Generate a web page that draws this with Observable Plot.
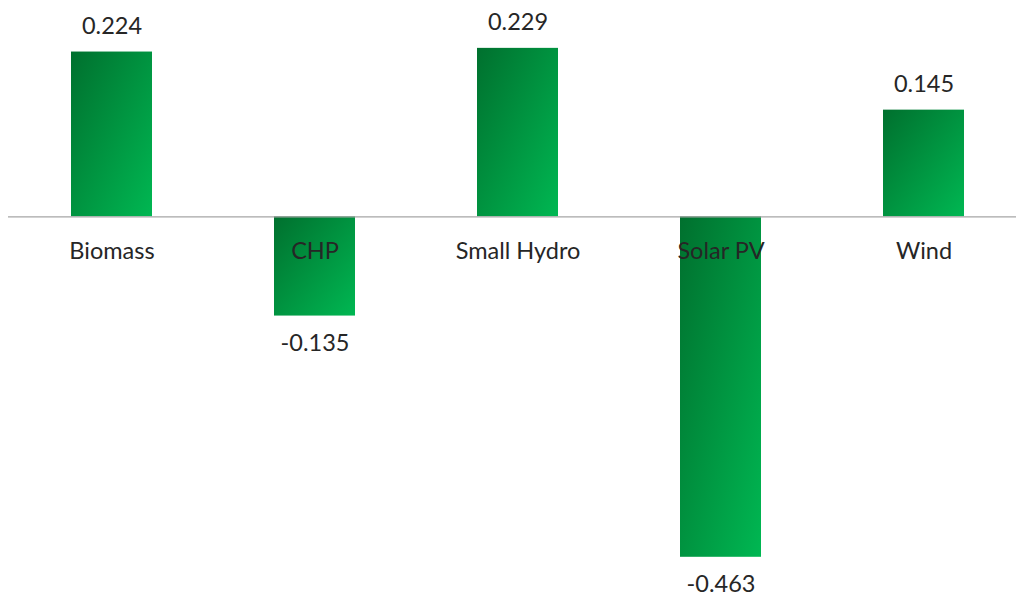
<!DOCTYPE html>
<html>
<head>
<meta charset="utf-8">
<script src="https://cdn.jsdelivr.net/npm/d3@7"></script>
<script src="https://cdn.jsdelivr.net/npm/@observablehq/plot@0.6"></script>
<style>
  html, body { margin: 0; padding: 0; background: #ffffff; }
  #chart svg { display: block; }
</style>
</head>
<body>
<div id="chart"></div>
<script>
// Technologies and their values
const technologies = ["Biomass", "CHP", "Small Hydro", "Solar PV", "Wind"];
const values = [0.224, -0.135, 0.229, -0.463, 0.145];

const data = technologies.map((t, i) => ({tech: t, value: values[i]}));
// three decimals, plain hyphen for negatives
const fmt = v => (v < 0 ? "-" : "") + Math.abs(v).toFixed(3);
const font = "Lato, 'Noto Sans', sans-serif";
const textColor = "#262626";
const fs = 23.5;

const chart = Plot.plot({
  width: 1016,
  height: 601,
  marginLeft: 8,
  marginRight: 0,
  marginTop: 3,
  marginBottom: 17,
  style: {fontFamily: font, background: "#ffffff"},
  x: {type: "band", domain: technologies, range: [10, 1025.5], paddingInner: 0.6, paddingOuter: 0.3, axis: null},
  y: {domain: [-0.5, 0.29], axis: null},
  marks: [
    Plot.barY(data, {x: "tech", y: "value", fill: "url(#barGradient)"}),
    Plot.ruleY([0], {stroke: "#a6a6a6", strokeWidth: 1.3}),
    // category names sit just under the zero line
    Plot.text(data, {x: "tech", y: () => 0, text: "tech", dy: 35, fontSize: fs, fill: textColor, fontFamily: font}),
    // value labels above positive bars
    Plot.text(data.filter(d => d.value >= 0), {x: "tech", y: "value", text: d => fmt(d.value), lineAnchor: "bottom", dy: -18, fontSize: fs, fill: textColor, fontFamily: font}),
    // value labels below negative bars
    Plot.text(data.filter(d => d.value < 0), {x: "tech", y: "value", text: d => fmt(d.value), lineAnchor: "top", dy: 18, fontSize: fs, fill: textColor, fontFamily: font})
  ]
});

// diagonal dark-to-light green fill shared by every bar
const ns = "http://www.w3.org/2000/svg";
const defs = document.createElementNS(ns, "defs");
const grad = document.createElementNS(ns, "linearGradient");
grad.setAttribute("id", "barGradient");
grad.setAttribute("x1", "0"); grad.setAttribute("y1", "0");
grad.setAttribute("x2", "1"); grad.setAttribute("y2", "1");
[["0%", "#00702e"], ["100%", "#00b752"]].forEach(([o, c]) => {
  const s = document.createElementNS(ns, "stop");
  s.setAttribute("offset", o);
  s.setAttribute("stop-color", c);
  grad.appendChild(s);
});
defs.appendChild(grad);
chart.insertBefore(defs, chart.firstChild);

document.getElementById("chart").appendChild(chart);
</script>
</body>
</html>
